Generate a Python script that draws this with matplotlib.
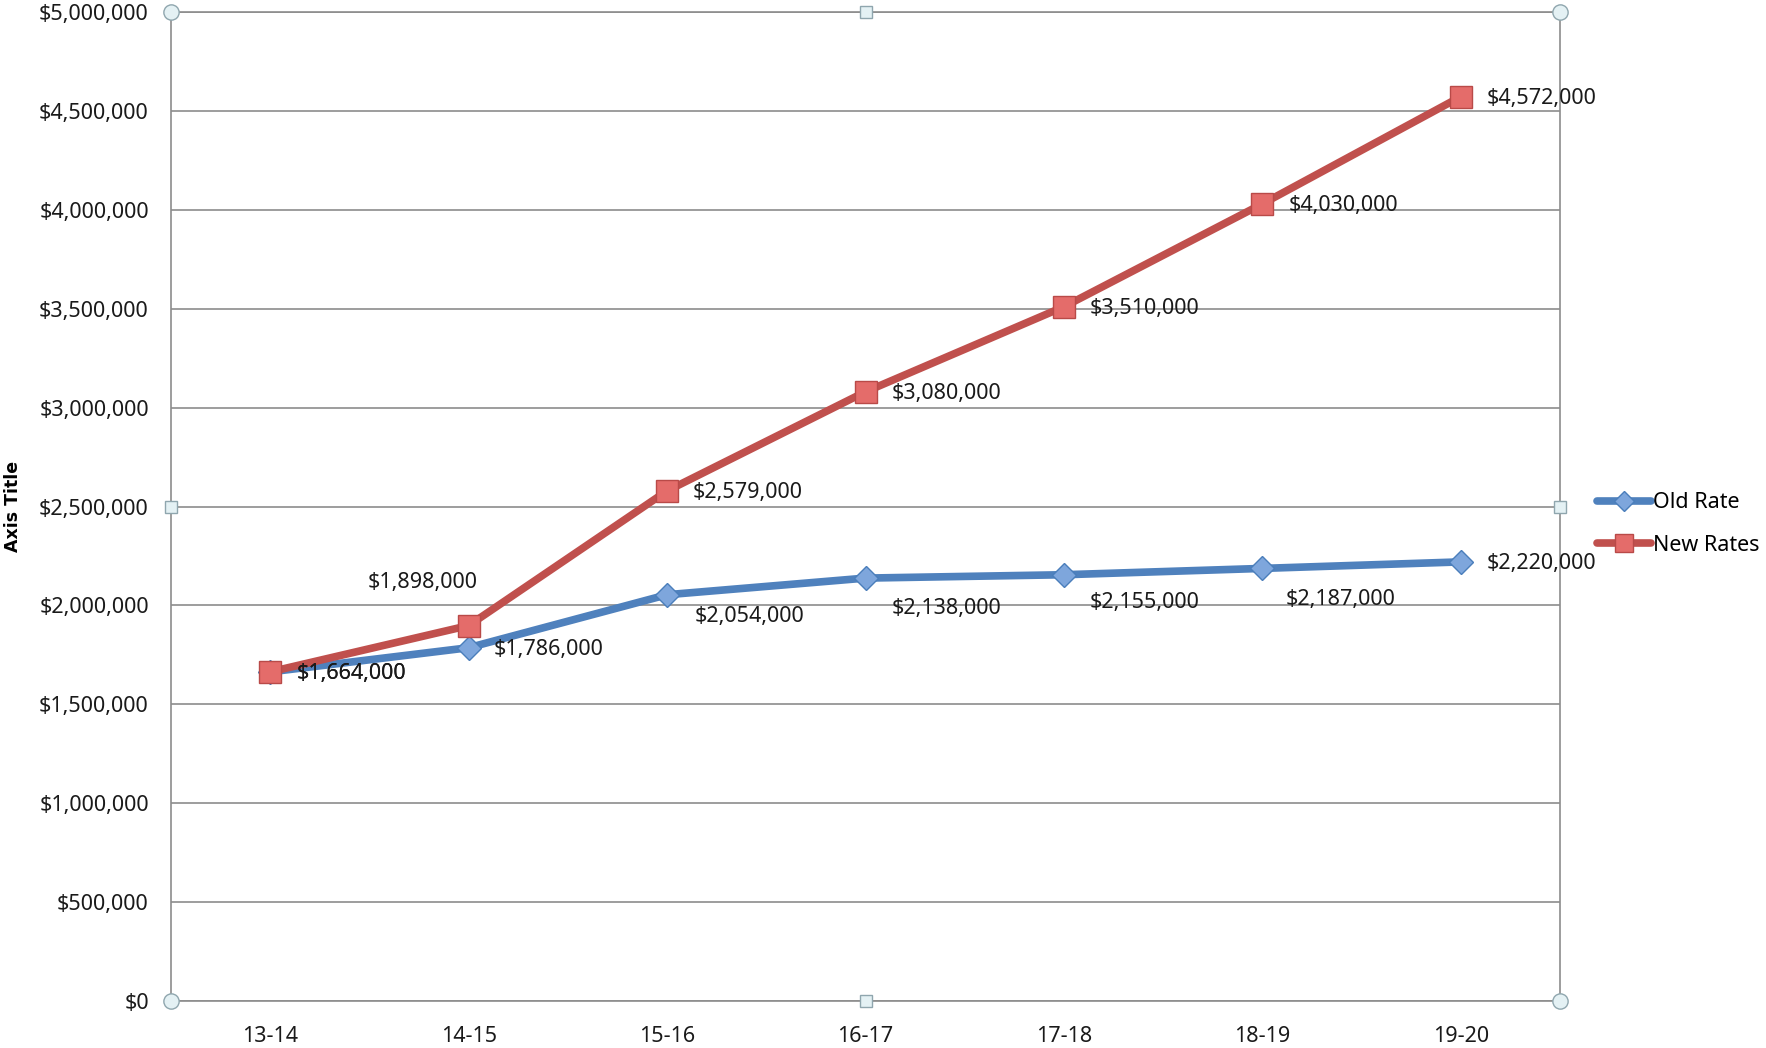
import matplotlib
matplotlib.use("Agg")
import matplotlib.pyplot as plt
from matplotlib.ticker import FuncFormatter, MultipleLocator

plt.rcParams['font.family'] = ['Noto Sans', 'DejaVu Sans']

years = ["13-14", "14-15", "15-16", "16-17", "17-18", "18-19", "19-20"]
old_rate = [1664000, 1786000, 2054000, 2138000, 2155000, 2187000, 2220000]
new_rates = [1664000, 1898000, 2579000, 3080000, 3510000, 4030000, 4572000]

# label offsets in pixels (dx, dy), roughly where Excel put them
old_offsets = [(26, -2), (25, -2), (28, -22), (26, -30), (26, -28), (23, -31), (26, -2)]
new_offsets = [(26, -2), (-46, 43), (26, -2), (26, -2), (26, -2), (26, -2), (26, -2)]

blue = '#4F81BD'
red = '#C0504D'
grid_col = '#8C8C8C'
fs = 15.5

fig = plt.figure(figsize=(17.66, 10.48), dpi=100)
ax = fig.add_axes([171/1766, 1 - 1001/1048, 1389/1766, 989/1048])

x = list(range(len(years)))
ax.plot(x, old_rate, color=blue, lw=5.5, marker='D', markersize=12.5,
        markerfacecolor='#7EA6DC', markeredgecolor='#4A7EBB', markeredgewidth=1,
        label='Old Rate', zorder=3, solid_capstyle='round')
ax.plot(x, new_rates, color=red, lw=5.5, marker='s', markersize=16,
        markerfacecolor='#E46C6A', markeredgecolor='#B94A48', markeredgewidth=1,
        label='New Rates', zorder=4, solid_capstyle='round')

for i, v in enumerate(old_rate):
    dx, dy = old_offsets[i]
    ax.annotate(f"${v:,.0f}", (i, v), xytext=(dx, dy), textcoords='offset pixels',
                ha='left', va='center', fontsize=fs, color='#1a1a1a', zorder=5)
for i, v in enumerate(new_rates):
    dx, dy = new_offsets[i]
    ha = 'center' if dx < 0 else 'left'
    ax.annotate(f"${v:,.0f}", (i, v), xytext=(dx, dy), textcoords='offset pixels',
                ha=ha, va='center', fontsize=fs, color='#1a1a1a', zorder=5)

ax.set_xlim(-0.5, len(years) - 0.5)
ax.set_ylim(0, 5000000)
ax.yaxis.set_major_locator(MultipleLocator(500000))
ax.yaxis.set_major_formatter(FuncFormatter(lambda v, p: f"${v:,.0f}"))
ax.set_xticks(x)
ax.set_xticklabels(years)
ax.tick_params(axis='both', length=0, labelsize=fs, colors='#1a1a1a')
ax.tick_params(axis='y', pad=16)
ax.tick_params(axis='x', pad=18)
ax.grid(axis='y', color=grid_col, lw=1.2)
ax.set_axisbelow(True)
for s in ax.spines.values():
    s.set_color(grid_col)
    s.set_linewidth(1.2)

ax.set_ylabel("Axis Title", fontsize=12.5, fontweight='bold', family='DejaVu Sans')
ax.yaxis.set_label_coords((22 - 171) / 1389, 0.5)

# selection handles left over from the screenshot
for hx, hy in [(0, 0), (0, 1), (1, 0), (1, 1)]:
    ax.plot(hx, hy, 'o', transform=ax.transAxes, clip_on=False, markersize=11,
            markerfacecolor='#E4F1F4', markeredgecolor='#8FA6AE', zorder=6)
for hx, hy in [(0.5, 0), (0.5, 1), (0, 0.5), (1, 0.5)]:
    ax.plot(hx, hy, 's', transform=ax.transAxes, clip_on=False, markersize=8,
            markerfacecolor='#E4F1F4', markeredgecolor='#8FA6AE', zorder=6)

fig.legend(loc='center left', bbox_to_anchor=(1597/1766, 1 - 524/1048),
           frameon=False, fontsize=fs, handlelength=2.5, handletextpad=0.1,
           labelspacing=1.0, borderpad=0, borderaxespad=0, markerscale=0.8)

fig.savefig("out.png", dpi=100)
